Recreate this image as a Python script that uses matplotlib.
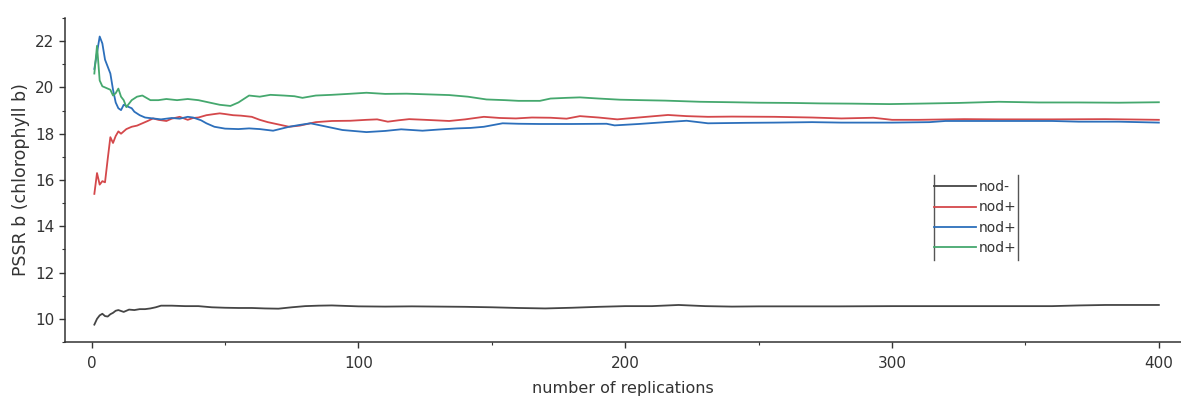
import matplotlib
matplotlib.use("Agg")
import matplotlib.pyplot as plt
from matplotlib.ticker import MultipleLocator
from matplotlib.lines import Line2D

plt.rcParams['font.family'] = ['DejaVu Sans']

labels = ["nod-", "nod+", "nod+", "nod+"]

black_x = [1,2,3,4,5,6,7,8,9,10,12,14,16,18,20,22,24,26,30,35,40,45,50,55,60,65,70,75,80,85,90,95,100,
           110,120,130,140,150,160,170,180,190,200,210,220,230,240,250,260,280,300,320,340,360,370,380,390,400]
black_y = [9.75,10.0,10.15,10.22,10.12,10.1,10.2,10.26,10.35,10.38,10.3,10.4,10.38,10.42,10.42,10.45,10.5,10.57,
           10.57,10.55,10.55,10.5,10.48,10.47,10.47,10.45,10.44,10.5,10.55,10.57,10.58,10.56,10.54,
           10.53,10.54,10.53,10.52,10.5,10.47,10.45,10.48,10.52,10.55,10.55,10.6,10.55,10.53,10.54,10.54,
           10.54,10.55,10.55,10.55,10.55,10.58,10.6,10.6,10.6]

red_x = [1,2,3,4,5,6,7,8,9,10,11,13,15,17,19,21,23,25,28,30,33,36,38,40,43,46,48,50,53,56,60,63,66,70,74,78,84,90,97,
         103,107,111,115,119,125,134,140,147,153,159,165,172,178,183,190,197,
         205,216,223,231,240,256,270,281,293,300,310,327,340,360,380,400]
red_y = [15.4,16.3,15.8,15.95,15.9,16.9,17.85,17.6,17.9,18.1,18.0,
         18.2,18.3,18.35,18.45,18.55,18.66,18.6,18.55,18.65,18.73,18.6,18.68,18.7,18.8,18.85,18.88,18.85,18.8,18.78,
         18.73,18.6,18.5,18.4,18.3,18.35,18.5,18.55,18.56,
         18.6,18.62,18.52,18.58,18.63,18.6,18.55,18.62,18.73,18.68,18.66,18.7,18.69,18.65,18.76,18.7,18.62,
         18.7,18.81,18.76,18.73,18.74,18.73,18.7,18.66,18.69,18.6,18.6,18.63,18.62,18.62,18.63,18.6]

blue_x = [1,2,3,4,5,6,7,8,9,10,11,12,13,14,15,16,18,20,23,26,30,33,36,38,41,43,46,50,55,59,63,68,74,78,82,87,94,
          103,110,116,124,130,137,142,147,154,160,168,180,193,196,
          205,215,223,231,245,256,270,281,300,314,320,340,360,370,385,400]
blue_y = [20.8,21.5,22.2,21.9,21.2,20.9,20.6,19.9,19.35,19.1,19.02,19.25,19.2,19.15,19.1,18.95,
          18.8,18.7,18.66,18.62,18.68,18.65,18.73,18.7,18.58,18.45,18.3,18.22,18.2,18.23,18.2,18.13,18.3,18.38,
          18.45,18.33,18.16,
          18.07,18.12,18.19,18.13,18.18,18.23,18.25,18.3,18.45,18.43,18.42,18.42,18.43,18.36,
          18.42,18.5,18.56,18.45,18.47,18.48,18.5,18.48,18.48,18.5,18.55,18.55,18.55,18.52,18.52,18.48]

green_x = [1,2,3,4,5,6,7,8,9,10,11,12,13,14,15,17,19,22,25,28,32,36,40,44,48,52,55,59,63,67,72,76,79,84,90,96,
           103,110,118,126,134,141,148,155,160,168,172,178,183,190,198,
           206,215,228,240,250,262,273,285,299,310,325,340,355,370,385,400]
green_y = [20.6,21.8,20.3,20.05,20.0,19.95,19.9,19.65,19.75,19.95,19.6,19.45,19.15,19.3,19.45,
           19.6,19.65,19.45,19.45,19.5,19.45,19.5,19.45,19.35,19.25,19.2,19.35,19.65,19.6,19.68,19.65,19.62,
           19.55,19.65,19.68,19.72,
           19.77,19.72,19.73,19.7,19.67,19.6,19.48,19.45,19.42,19.42,19.52,19.55,19.57,19.52,19.47,
           19.45,19.43,19.38,19.36,19.34,19.33,19.31,19.3,19.28,19.3,19.33,19.38,19.35,19.35,19.34,19.36]

x_ticks = [0, 100, 200, 300, 400]
y_ticks = [10, 12, 14, 16, 18, 20, 22]

colors = ["#454545", "#d4484b", "#2c6fbb", "#45a86e"]

fig = plt.figure(figsize=(11.81, 4.01), dpi=100)
ax = fig.add_axes([65/1181, 59/401, 1116/1181, 324/401])

series = [(black_x, black_y), (red_x, red_y), (blue_x, blue_y), (green_x, green_y)]
for (xs, ys), c, lab in zip(series, colors, labels):
    ax.plot(xs, ys, color=c, lw=1.3, label=lab)

ax.set_xlim(-10, 408.3)
ax.set_ylim(9, 23)
ax.set_xticks(x_ticks)
ax.set_yticks(y_ticks)
ax.xaxis.set_minor_locator(MultipleLocator(50))
ax.yaxis.set_minor_locator(MultipleLocator(1))
ax.tick_params(which='major', direction='out', length=4, width=1.0, colors='#333333', labelsize=11)
ax.tick_params(which='minor', direction='out', length=2.5, width=0.8, colors='#333333')
ax.tick_params(axis='x', pad=6)
for s in ['top', 'right']:
    ax.spines[s].set_visible(False)
for s in ['left', 'bottom']:
    ax.spines[s].set_linewidth(1.1)
    ax.spines[s].set_color('#333333')

ax.set_xlabel("number of replications", fontsize=11.5, color='#333333', labelpad=7)
ax.set_ylabel("PSSR b (chlorophyll b)", fontsize=12.5, color='#333333', labelpad=4)

leg = ax.legend(loc='center', bbox_to_anchor=(0.8154, 0.384), frameon=False, fontsize=10,
                handlelength=3.0, handletextpad=0.2, labelspacing=0.45, borderpad=0, borderaxespad=0)
for t in leg.get_texts():
    t.set_color('#333333')

for xb in [(934-65)/1116, (1018-65)/1116]:
    ax.add_line(Line2D([xb, xb], [(342-175)/324, (342-260)/324], transform=ax.transAxes,
                       color='#555555', lw=1.0, clip_on=False))

fig.savefig("out.png", dpi=100)
